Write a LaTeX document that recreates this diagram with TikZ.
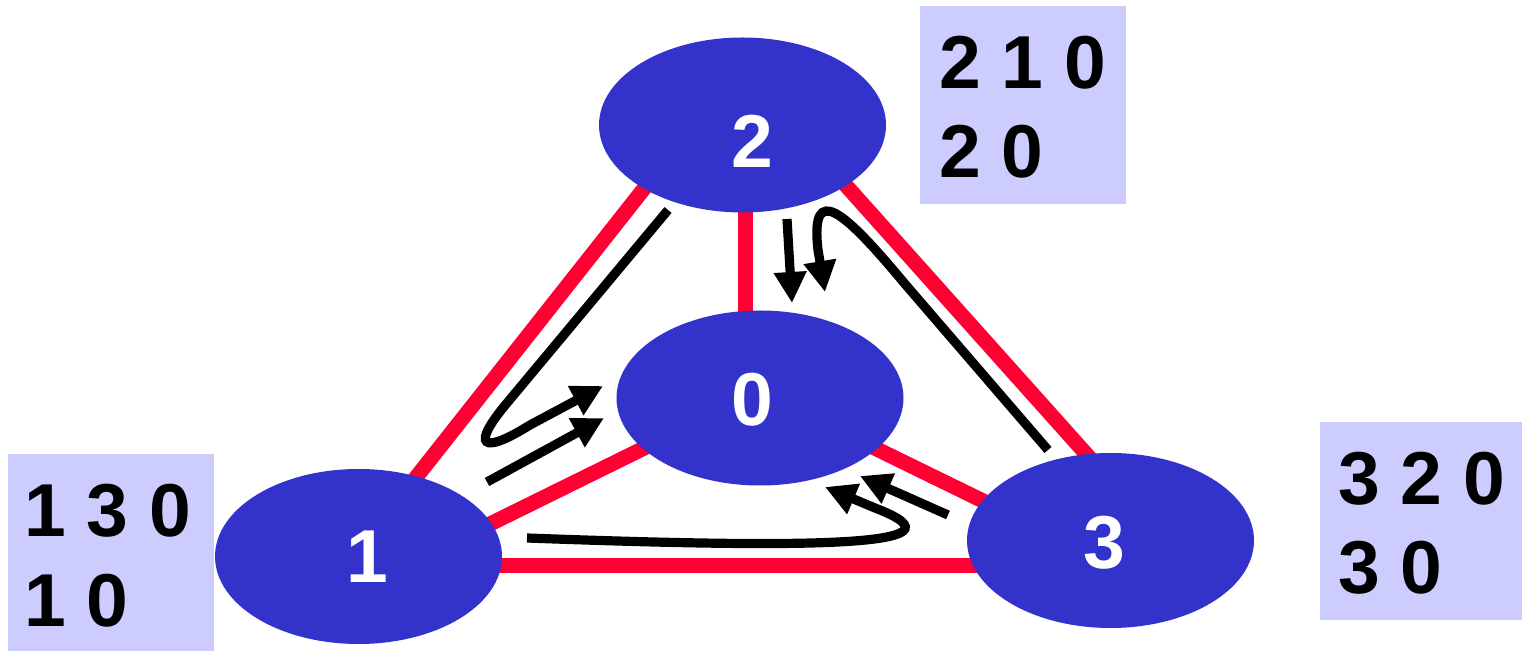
\documentclass[tikz,border=0pt]{standalone}
\usepackage{fontspec}
\setmainfont{Liberation Sans}
\usetikzlibrary{arrows.meta,shapes.geometric}
\definecolor{vblue}{RGB}{51,51,204}
\definecolor{ered}{RGB}{255,0,51}
\definecolor{tblfill}{RGB}{204,204,255}
\begin{document}
\begin{tikzpicture}[x=0.5pt,y=-0.5pt,
 vtx/.style={ellipse,fill=vblue,draw=none,minimum width=143.5pt,minimum height=87.5pt,inner sep=0pt},
 vlab/.style={text=white,font=\fontsize{37.5}{40}\selectfont\bfseries,inner sep=0pt},
 edgeline/.style={draw=ered,line width=7.5pt},
 msg/.style={draw=black,line width=4.6pt,-{Triangle[length=15.5pt,width=15.5pt]}},
 tblbox/.style={fill=tblfill,draw=none,inner sep=0pt,anchor=north west,minimum width=103pt,minimum height=99pt},
 tbltxt/.style={font=\fontsize{37.5}{40}\selectfont\bfseries,inner sep=0pt,anchor=base west}]
\useasboundingbox (0,0) rectangle (1522,651);

% triangle corner coordinates (hidden under the ellipses)
\coordinate (apex) at (740,67);
\coordinate (c21) at (354,556);
\coordinate (c23) at (1164,541);
\coordinate (c20a) at (745,124);
\coordinate (c20b) at (745,398);
\coordinate (c0l) at (760,391);
\coordinate (c1r) at (358,589);
\coordinate (c0r) at (760,392);
\coordinate (c3l) at (1110,563);
\coordinate (c13a) at (358,565.5);
\coordinate (c13b) at (1110,565.5);

% red edges
\draw[edgeline] (apex) -- (c21);
\draw[edgeline] (apex) -- (c23);
\draw[edgeline] (c20a) -- (c20b);
\draw[edgeline] (c0l) -- (c1r);
\draw[edgeline] (c0r) -- (c3l);
\draw[edgeline] (c13a) -- (c13b);

% vertices
\node[vtx] (n2) at (742.5,125) {};
\node[vtx] (n0) at (760,398) {};
\node[vtx] (n1) at (358.5,556.5) {};
\node[vtx] (n3) at (1110.5,540.5) {};
\node[vlab] (l2) at (752,141) {2};
\node[vlab] (l0) at (752.5,399.5) {0};
\node[vlab] (l1) at (367,556.5) {1};
\node[vlab] (l3) at (1104,542.5) {3};

% message arrows
\coordinate (a1s) at (668,210);
\coordinate (a1t) at (603,386);
\draw[msg] (a1s) -- (507,403) .. controls (470,447) and (482,455) .. (530,425) -- (a1t);
\coordinate (a2s) at (487,482);
\coordinate (a2t) at (604,418);
\draw[msg] (a2s) -- (a2t);
\coordinate (a3s) at (787,219);
\coordinate (a3t) at (792,303);
\draw[msg] (a3s) -- (a3t);
\coordinate (a4s) at (1048,450);
\coordinate (a4t) at (825,292);
\draw[msg] (a4s) -- (905,284) .. controls (845,212) and (810,180) .. (818,250) -- (a4t);
\coordinate (a5s) at (948,515);
\coordinate (a5t) at (860,476);
\draw[msg] (a5s) -- (a5t);
\coordinate (a6s) at (527,538);
\coordinate (a6t) at (825,487);
\draw[msg] (a6s) .. controls (800,548) and (980,548) .. (875,508) -- (a6t);

% routing tables
\node[tblbox] (b2) at (920,6) {};
\node[tblbox] (b1) at (8,454) {};
\node[tblbox] (b3) at (1320,422) {};
\node[tbltxt] (t2a) at (939,89) {2 1 0};
\node[tbltxt] (t2b) at (939,178) {2 0};
\node[tbltxt] (t1a) at (24,537) {1 3 0};
\node[tbltxt] (t1b) at (24,627) {1 0};
\node[tbltxt] (t3a) at (1338,505) {3 2 0};
\node[tbltxt] (t3b) at (1338,594) {3 0};
\end{tikzpicture}
\end{document}
